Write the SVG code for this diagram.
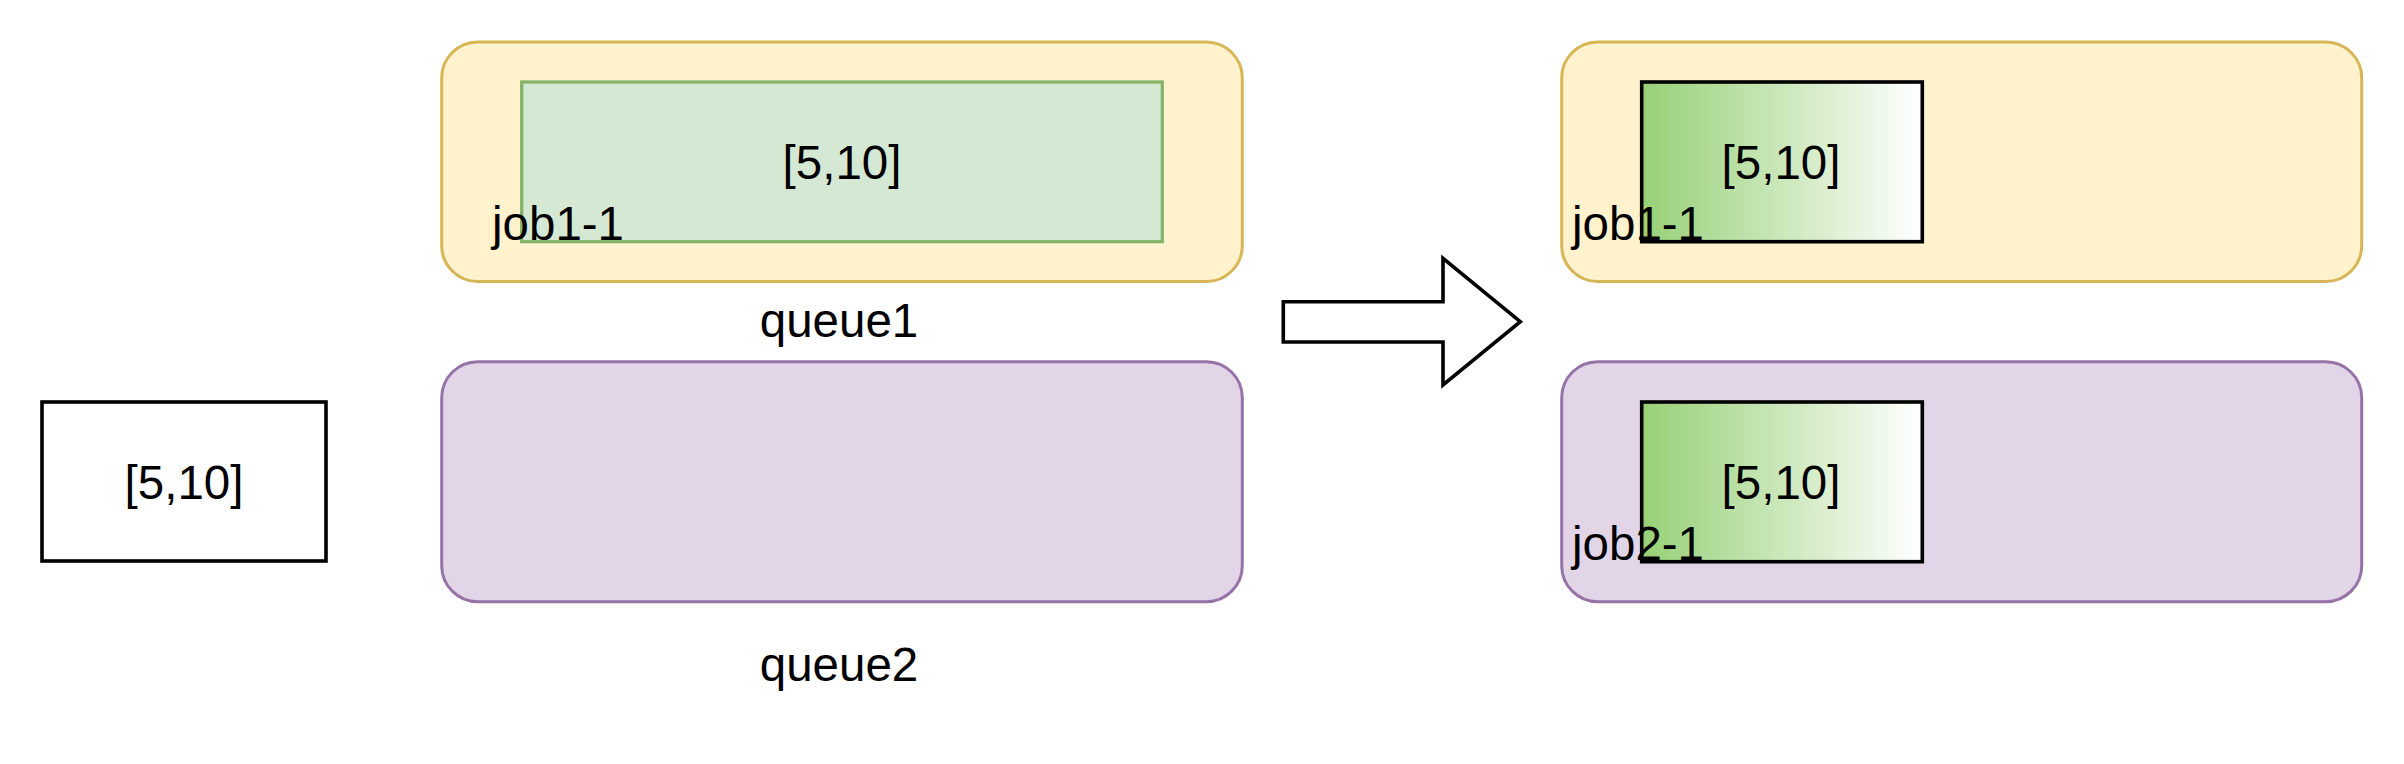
<svg xmlns="http://www.w3.org/2000/svg" width="2404" height="764" viewBox="0 0 2404 764">
  <defs>
    <linearGradient id="gGreen" x1="0" y1="0" x2="1" y2="0">
      <stop offset="0" stop-color="#97d077"/>
      <stop offset="1" stop-color="#ffffff"/>
    </linearGradient>
  </defs>
  <style>
    text { font-family: "Liberation Sans", Arial, Helvetica, sans-serif; font-size: 47.5px; fill: #000000; }
    .c { text-anchor: middle; }
    .yellow { fill: #fff2cc; stroke: #d6b656; stroke-width: 3; }
    .purple { fill: #e1d5e7; stroke: #9673a6; stroke-width: 3; }
    .green { fill: #d5e8d4; stroke: #82b366; stroke-width: 3.2; }
    .grad { fill: url(#gGreen); stroke: #000000; stroke-width: 3.6; }
    .plain { fill: #ffffff; stroke: #000000; stroke-width: 3.6; }
  </style>
  <rect width="2404" height="764" fill="#ffffff"/>

  <g id="input-job">
    <rect class="plain" x="42" y="402" width="284" height="159"/>
    <text class="c" x="184" y="499">[5,10]</text>
  </g>

  <g id="queue1-before">
    <rect class="yellow" x="441.7" y="42" width="800.6" height="239.5" rx="36" ry="36"/>
    <text class="c" x="839" y="337">queue1</text>
  </g>
  <g id="job1-1-before">
    <rect class="green" x="521.7" y="82" width="640.6" height="159.7"/>
    <text class="c" x="842" y="179">[5,10]</text>
    <text x="492" y="240">job1-1</text>
  </g>

  <g id="queue2-before">
    <rect class="purple" x="441.7" y="361.7" width="800.6" height="240" rx="36" ry="36"/>
    <text class="c" x="839" y="681">queue2</text>
  </g>

  <g id="connectors">
    <polygon points="1283.3,301.7 1443,301.7 1443,258.3 1520.3,321.7 1443,385 1443,342 1283.3,342" fill="#ffffff" stroke="#000000" stroke-width="3.6" stroke-linejoin="miter"/>
  </g>

  <g id="queue1-after">
    <rect class="yellow" x="1561.7" y="42" width="800" height="239.5" rx="36" ry="36"/>
  </g>
  <g id="job1-1-after">
    <rect class="grad" x="1641.7" y="82" width="280.6" height="159.7"/>
    <text class="c" x="1781" y="179">[5,10]</text>
    <text x="1572" y="240">job1-1</text>
  </g>

  <g id="queue2-after">
    <rect class="purple" x="1561.7" y="361.7" width="800" height="240" rx="36" ry="36"/>
  </g>
  <g id="job2-1-after">
    <rect class="grad" x="1641.7" y="402" width="280.6" height="159.7"/>
    <text class="c" x="1781" y="499">[5,10]</text>
    <text x="1572" y="560">job2-1</text>
  </g>
</svg>
